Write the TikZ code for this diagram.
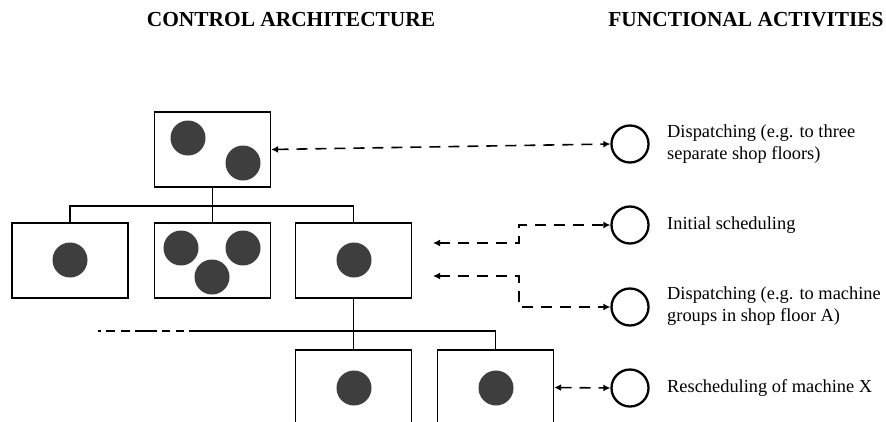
\documentclass[tikz,border=0pt]{standalone}
\usepackage{fontspec}
\setmainfont{Liberation Serif}
\usetikzlibrary{arrows.meta}
\definecolor{dotgray}{HTML}{3E3E3E}
\tikzset{
  unitbox/.style={draw, line width=1.4pt, minimum width=116pt, minimum height=75pt, inner sep=0pt},
  dot/.style={circle, fill=dotgray, minimum size=35pt, inner sep=0pt},
  activity/.style={circle, draw, line width=2.3pt, minimum size=37pt, inner sep=0pt},
  tree/.style={line width=1.1pt},
  link/.style={line width=1.6pt, dash pattern=on 11pt off 8pt, {Latex[length=7pt,width=7pt]}-{Latex[length=7pt,width=7pt]}},
  label/.style={anchor=west, align=left, font=\fontsize{18.4}{22}\selectfont, inner sep=0pt},
  header/.style={font=\fontsize{21.4}{24}\selectfont\bfseries, inner sep=0pt}
}
\begin{document}
\begin{tikzpicture}[x=1pt, y=-1pt]
\clip (0,0) rectangle (886,421);
\fill[white] (0,0) rectangle (886,421);
% headers
\node[header] (h1) at (291,20) {CONTROL ARCHITECTURE};
\node[header] (h2) at (746,20) {FUNCTIONAL ACTIVITIES};
% boxes
\node[unitbox] (top) at (212.5,149.5) {};
\node[unitbox] (b1) at (70,260.5) {};
\node[unitbox] (b2) at (212.5,260.5) {};
\node[unitbox] (b3) at (353.5,260.5) {};
\node[unitbox] (b4) at (353.5,387.5) {};
\node[unitbox] (b5) at (495.5,387.5) {};
% dots
\node[dot] (t1) at (188,138) {};
\node[dot] (t2) at (243,163) {};
\node[dot] (d1) at (70,260) {};
\node[dot] (d2) at (181,248) {};
\node[dot] (d3) at (243,248) {};
\node[dot] (d4) at (212,277) {};
\node[dot] (d5) at (354,260) {};
\node[dot] (d6) at (354,388) {};
\node[dot] (d7) at (496,388) {};
% tree
\coordinate (busA) at (212.5,206);
\draw[tree] (top.south) -- (b2.north);
\draw[tree] (b1.north) |- (busA) -| (b3.north);
\coordinate (busL) at (189,331);
\coordinate (busF) at (98,331);
\draw[tree] (b3.south) -- (b4.north);
\draw[tree] (busL) -| (b5.north);
\draw[tree, line width=1.6pt, dash pattern=on 3pt off 5pt on 9pt off 6pt on 9pt off 5pt on 22pt off 5pt on 8pt off 6pt on 8pt off 5pt] (busF) -- (busL);
% activities
\node[activity] (c1) at (630,144) {};
\node[activity] (c2) at (630,225) {};
\node[activity] (c3) at (630,307) {};
\node[activity] (c4) at (630,388) {};
\node[label] (l1) at (667,144.5) {Dispatching (e.g. to three\\separate shop floors)};
\node[label] (l2) at (667,225) {Initial scheduling};
\node[label] (l3) at (667,306) {Dispatching (e.g. to machine\\groups in shop floor A)};
\node[label] (l4) at (667,388) {Rescheduling of machine X};
% links
\coordinate (e2) at (433,243);
\coordinate (k2) at (519,243);
\coordinate (e3) at (433,276);
\coordinate (k3) at (519,276);
\draw[link] (top.east) -- (c1.west);
\draw[link] (e2) -- (k2) |- (c2.west);
\draw[link] (e3) -- (k3) |- (c3.west);
\draw[link] (b5.east) -- (c4.west);
\end{tikzpicture}
\end{document}
